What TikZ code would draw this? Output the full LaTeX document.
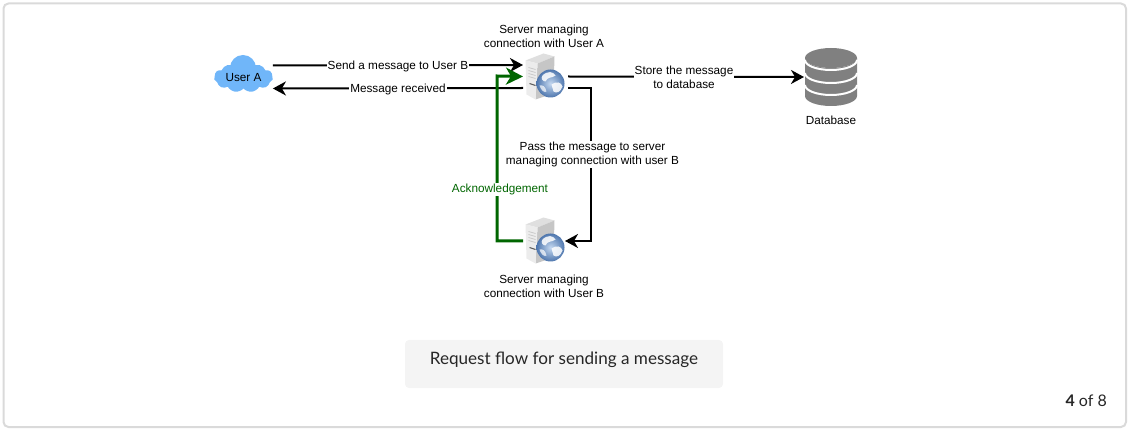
\documentclass[tikz,border=0pt]{standalone}
\usepackage{fontspec}
\setmainfont{Liberation Sans}
\newfontfamily\captionfont{Lato}
\usetikzlibrary{arrows.meta,shapes.symbols}
\definecolor{ackgreen}{HTML}{006600}
\definecolor{cloudblue}{HTML}{70B6F9}
\definecolor{dbgray}{HTML}{808080}
\definecolor{cardgray}{HTML}{DADADA}
\definecolor{capgray}{HTML}{F4F4F4}
\definecolor{globelight}{HTML}{C4D8F0}
\definecolor{globedark}{HTML}{4F77AE}
\tikzset{>={Stealth[length=13pt,width=14pt,inset=4pt]}}
\tikzstyle{flow}=[draw=black,line width=2pt]
\tikzstyle{ack}=[draw=ackgreen,line width=3pt,arrows={-Stealth[length=17pt,width=17pt,inset=5pt]}]
\tikzstyle{lbl}=[fill=white,inner sep=1pt,align=center,yshift=-1pt,font=\fontsize{11.75}{14}\selectfont]
\tikzstyle{plain}=[inner sep=0pt,align=center,font=\fontsize{11.75}{14}\selectfont]
\tikzstyle{server}=[rectangle,inner sep=0pt,outer sep=0pt,minimum width=43pt,minimum height=48pt]
\tikzset{servericon/.pic={
	\fill[gray!25] (-19,-16) -- (-1,-23) -- (10,-20) -- (-7,-13) -- cycle;
	\fill[gray!45] (-7,-13) -- (10,-20) -- (9,17) -- (-9,23) -- cycle;
	\fill[gray!15] (-19,-16) -- (-7,-13) -- (-9,23) -- (-18,18) -- cycle;
	\foreach \yy in {-9,-6,-3,0}
		\draw[gray!45,line width=0.7pt] (-16,\yy) -- (-9,\yy+2);
	\draw[gray!70!black,line width=1pt] (-15,7) -- (-9,9);
	\shade[inner color=globelight,outer color=globedark] (6,7) circle (14);
	\fill[white,opacity=0.85] (-2,-1) .. controls (3,-6) and (9,-5) .. (11,-1) .. controls (7,2) and (3,0) .. (1,5) .. controls (-2,5) and (-4,2) .. (-2,-1) -- cycle;
	\fill[white,opacity=0.85] (7,8) .. controls (12,4) and (17,6) .. (18,10) .. controls (16,16) and (12,17) .. (9,15) -- cycle;
	\fill[white,opacity=0.7] (-5,9) .. controls (-2,8) and (1,10) .. (2,15) .. controls (0,17) and (-4,13) .. (-5,9) -- cycle;
}}
\begin{document}
\begin{tikzpicture}[x=1pt,y=-1pt]
	\useasboundingbox (0,0) rectangle (1130,430);
	\draw[cardgray,line width=2pt,rounded corners=5pt] (3.5,3.5) rectangle (1126,427);

	\fill[cloudblue] (243,68) circle (13);
	\node[cloud,cloud puffs=11,cloud puff arc=110,aspect=2.2,fill=cloudblue,inner sep=0pt,outer sep=0pt,minimum width=59pt,minimum height=27pt,font=\fontsize{11.75}{14}\selectfont] (userA) at (243.5,77.5) {User A};
	\node[server] (serverA) at (544.5,76.5) {};
	\node[server] (serverB) at (544.5,240.5) {};
	\pic at (serverA) {servericon};
	\pic at (serverB) {servericon};
	\node[inner sep=0pt,outer sep=0pt,minimum width=52pt,minimum height=58pt] (database) at (831,77) {};
	\fill[dbgray] (805,58) arc[start angle=180,end angle=360,x radius=26pt,y radius=10pt] -- (857,96) arc[start angle=0,end angle=-180,x radius=26pt,y radius=10pt] -- cycle;
	\fill[dbgray] (831,58) ellipse[x radius=26pt,y radius=10pt];
	\foreach \yy in {60,73,85}
		\draw[white,line width=2pt] (805,\yy) arc[start angle=180,end angle=360,x radius=26pt,y radius=10pt];

	\node[plain] (serverAname) at (544,36.5) {Server managing\\connection with User A};
	\node[plain] (serverBname) at (544,286.5) {Server managing\\connection with User B};
	\node[plain] (databasename) at (831,120.5) {Database};

	\coordinate (passtop) at (591,88);
	\coordinate (passbottom) at (591,241);
	\coordinate (acktop) at (497,76);
	\coordinate (ackbottom) at (497,241);

	\draw[flow,->] ([yshift=12pt]userA.east) -- node[lbl] {Send a message to User B} ([yshift=11.5pt]serverA.west);
	\draw[flow,->] ([yshift=-11.5pt]serverA.west) -- node[lbl] {Message received} ([yshift=-11pt]userA.east);
	\draw[flow,->] ([xshift=2pt]serverA.east) -- node[lbl,xshift=-2pt] {Store the message\\to database} ([xshift=-1pt]database.west);
	\draw[flow,->] ([xshift=2pt,yshift=-11.5pt]serverA.east) -- (passtop) -- node[lbl,pos=0.43,xshift=1.5pt] {Pass the message to server\\managing connection with user B} (passbottom) -- ([xshift=-1pt,yshift=-0.5pt]serverB.east);
	\draw[ack] ([yshift=-0.5pt]serverB.west) -- (ackbottom) -- node[lbl,pos=0.32,xshift=3pt,text=ackgreen] {Acknowledgement} (acktop) -- (serverA.west);

	\node[fill=capgray,rounded corners=4pt,inner sep=0pt,minimum width=318pt,minimum height=48pt] (capbox) at (564,364) {};
	\node[inner sep=0pt,font=\captionfont\fontsize{17.1}{19}\selectfont,text=black!85] (captext) at (564,360) {Request flow for sending a message};
	\node[inner sep=0pt,anchor=east,font=\captionfont\fontsize{16}{18}\selectfont,text=black!85] (pagecount) at (1107,401) {\textbf{4} of 8};
\end{tikzpicture}
\end{document}
